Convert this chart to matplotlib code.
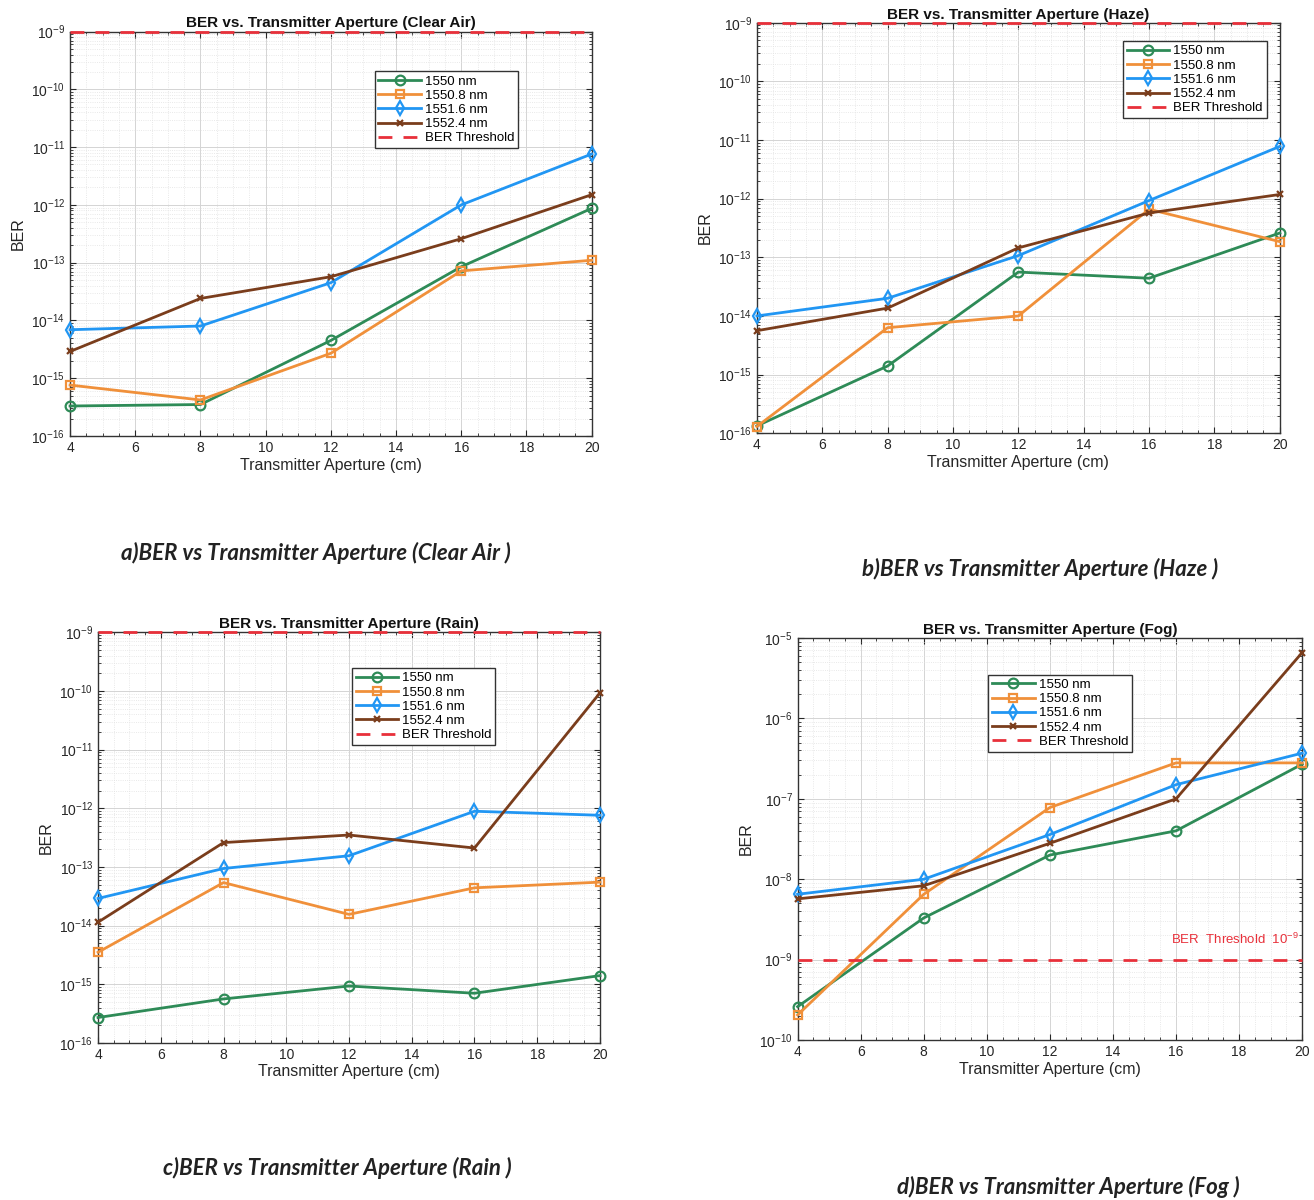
import matplotlib

matplotlib.use("Agg")
import matplotlib.pyplot as plt
from matplotlib.ticker import LogLocator, MultipleLocator, NullFormatter

plt.rcParams["font.family"] = ["Liberation Sans", "DejaVu Sans"]
plt.rcParams["mathtext.default"] = "regular"
plt.rcParams["axes.unicode_minus"] = False

GREEN = "#2e8b57"
ORANGE = "#f0903a"
BLUE = "#2196f3"
BROWN = "#7a3d1c"
THRESH_COLOR = "#e8303a"
TEXT_COLOR = "#262626"
GRID_COLOR = "#d4d4d4"

apertureCm = [4, 8, 12, 16, 20]
wavelengthLabels = ["1550 nm", "1550.8 nm", "1551.6 nm", "1552.4 nm"]
berThreshold = 1e-9

clearAir1550 = [3.3e-16, 3.5e-16, 4.5e-15, 8.5e-14, 8.7e-13]
clearAir15508 = [7.6e-16, 4.2e-16, 2.7e-15, 7.2e-14, 1.1e-13]
clearAir15516 = [6.9e-15, 8.0e-15, 4.5e-14, 1.0e-12, 7.6e-12]
clearAir15524 = [2.9e-15, 2.4e-14, 5.7e-14, 2.6e-13, 1.5e-12]

haze1550 = [1.33e-16, 1.4e-15, 5.6e-14, 4.4e-14, 2.6e-13]
haze15508 = [1.3e-16, 6.3e-15, 1.0e-14, 6.6e-13, 1.85e-13]
haze15516 = [1.0e-14, 2.0e-14, 1.07e-13, 9.3e-13, 7.8e-12]
haze15524 = [5.6e-15, 1.36e-14, 1.45e-13, 5.7e-13, 1.18e-12]

rain1550 = [2.7e-16, 5.6e-16, 9.3e-16, 7.0e-16, 1.4e-15]
rain15508 = [3.5e-15, 5.4e-14, 1.55e-14, 4.4e-14, 5.5e-14]
rain15516 = [2.9e-14, 9.4e-14, 1.55e-13, 8.9e-13, 7.6e-13]
rain15524 = [1.14e-14, 2.6e-13, 3.5e-13, 2.1e-13, 9.3e-11]

fog1550 = [2.6e-10, 3.3e-9, 2.0e-8, 4.0e-8, 2.7e-7]
fog15508 = [2.05e-10, 6.5e-9, 7.8e-8, 2.8e-7, 2.8e-7]
fog15516 = [6.5e-9, 1.0e-8, 3.6e-8, 1.5e-7, 3.7e-7]
fog15524 = [5.7e-9, 8.3e-9, 2.8e-8, 1.0e-7, 6.6e-6]

SERIES_STYLE = [
    (GREEN, "o", 7),
    (ORANGE, "s", 5.5),
    (BLUE, "d", 7),
    (BROWN, "x", 4.5),
]


# Applies the MATLAB-like axis styling.
def _styleAx(ax, yMin, yMax):
    ax.set_yscale("log")
    ax.set_xlim(4, 20)
    ax.set_ylim(yMin, yMax)
    ax.xaxis.set_major_locator(MultipleLocator(2))
    ax.xaxis.set_minor_locator(MultipleLocator(0.5))
    ax.yaxis.set_major_locator(LogLocator(base=10, numticks=20))
    ax.yaxis.set_minor_locator(LogLocator(base=10, subs=range(2, 10), numticks=20))
    ax.yaxis.set_minor_formatter(NullFormatter())
    ax.tick_params(
        which="both",
        direction="in",
        top=True,
        right=True,
        colors=TEXT_COLOR,
        labelsize=10,
    )
    ax.tick_params(which="major", length=4)
    ax.tick_params(which="minor", length=2)
    ax.grid(which="major", color=GRID_COLOR, linewidth=0.7)
    ax.grid(which="minor", color="#e2e2e2", linestyle=":", linewidth=0.6)
    ax.set_axisbelow(True)
    for spine in ax.spines.values():
        spine.set_color("#333333")
        spine.set_linewidth(1.0)
    ax.set_xlabel("Transmitter Aperture (cm)", color=TEXT_COLOR, fontsize=11.5, labelpad=2)
    ax.set_ylabel("BER", color=TEXT_COLOR, fontsize=11.5)


# Plots one BER panel with four wavelengths and the threshold.
def plotBerAx(ax, seriesList, title, yMin, yMax, legendAnchor):
    _styleAx(ax, yMin, yMax)
    for values, label, (color, marker, size) in zip(seriesList, wavelengthLabels, SERIES_STYLE):
        ax.plot(
            apertureCm,
            values,
            color=color,
            linewidth=2.0,
            marker=marker,
            markersize=size,
            markerfacecolor="none" if marker != "x" else color,
            markeredgewidth=1.6,
            label=label,
            clip_on=False,
            zorder=3,
        )
    ax.axhline(
        berThreshold,
        color=THRESH_COLOR,
        linestyle=(0, (5, 4)),
        linewidth=2.0,
        label="BER Threshold",
        clip_on=False,
        zorder=4,
    )
    ax.set_title(title, color="#111111", fontsize=11, fontweight="bold", pad=3)
    legend = ax.legend(
        loc="upper left",
        bbox_to_anchor=legendAnchor,
        fontsize=9.5,
        frameon=True,
        fancybox=False,
        framealpha=1.0,
        handlelength=3.2,
        borderpad=0.3,
        labelspacing=0.15,
        handletextpad=0.3,
    )
    legend.get_frame().set_edgecolor("#333333")
    legend.get_frame().set_linewidth(1.0)


fig = plt.figure(figsize=(13.14, 12), dpi=100)
fig.patch.set_facecolor("white")

axA = fig.add_axes([0.0533, 0.6367, 0.397, 0.337])
axB = fig.add_axes([0.576, 0.639, 0.398, 0.342])
axC = fig.add_axes([0.0746, 0.131, 0.382, 0.342])
axD = fig.add_axes([0.607, 0.1333, 0.384, 0.335])

plotBerAx(
    axA,
    [clearAir1550, clearAir15508, clearAir15516, clearAir15524],
    "BER vs. Transmitter Aperture (Clear Air)",
    1e-16,
    1e-9,
    (0.571, 0.918),
)
plotBerAx(
    axB,
    [haze1550, haze15508, haze15516, haze15524],
    "BER vs. Transmitter Aperture (Haze)",
    1e-16,
    1e-9,
    (0.688, 0.971),
)
plotBerAx(
    axC,
    [rain1550, rain15508, rain15516, rain15524],
    "BER vs. Transmitter Aperture (Rain)",
    1e-16,
    1e-9,
    (0.492, 0.929),
)
plotBerAx(
    axD,
    [fog1550, fog15508, fog15516, fog15524],
    "BER vs. Transmitter Aperture (Fog)",
    1e-10,
    1e-5,
    (0.365, 0.925),
)
axD.text(
    19.9,
    1.45e-9,
    "BER  Threshold  $10^{-9}$",
    color=THRESH_COLOR,
    fontsize=9.5,
    ha="right",
    va="bottom",
)

captionFont = dict(
    family=["Lato", "DejaVu Sans"],
    fontsize=16,
    fontweight="bold",
    fontstyle="italic",
    color="#222222",
    ha="center",
    va="center",
)
fig.text(316 / 1314, 1 - 553 / 1200, "a)BER vs Transmitter Aperture (Clear Air )", **captionFont)
fig.text(1040 / 1314, 1 - 569 / 1200, "b)BER vs Transmitter Aperture (Haze )", **captionFont)
fig.text(337 / 1314, 1 - 1168 / 1200, "c)BER vs Transmitter Aperture (Rain )", **captionFont)
fig.text(1068 / 1314, 1 - 1187 / 1200, "d)BER vs Transmitter Aperture (Fog )", **captionFont)

plt.savefig("out.png", dpi=100, facecolor="white")
plt.close(fig)
